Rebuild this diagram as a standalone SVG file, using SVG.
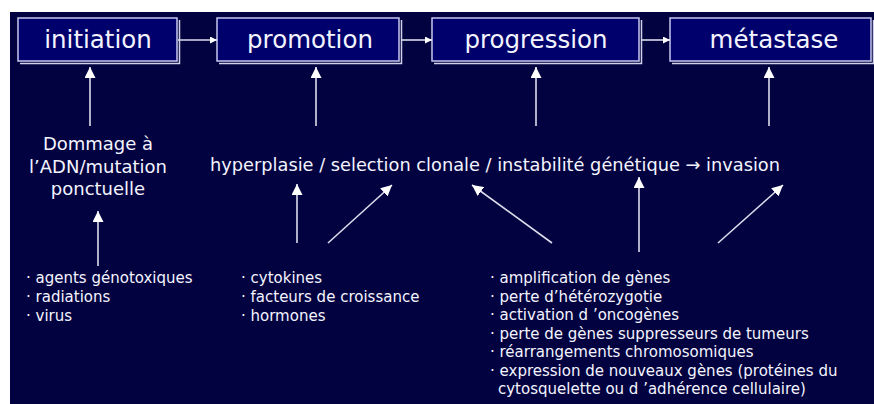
<svg xmlns="http://www.w3.org/2000/svg" width="874" height="404" viewBox="0 0 874 404">
<style>
.bg{fill:#020240}
.box{fill:#00006c;stroke:#c8c8f0;stroke-width:1.5}
.shd{fill:none;stroke:#d0d0e8;stroke-width:1.5}
.title{font-family:"DejaVu Sans",sans-serif;font-size:24.5px;fill:#f4f4ff;text-anchor:middle}
.lbl{font-family:"DejaVu Sans",sans-serif;font-size:18px;fill:#f4f4ff}
.lst{font-family:"DejaVu Sans",sans-serif;font-size:15px;fill:#f4f4ff}
.ln{stroke:#dcdcec;stroke-width:1.6;fill:none}
</style>
<defs>
<marker id="ah" viewBox="0 0 10 10" refX="10" refY="5" markerWidth="7" markerHeight="7" markerUnits="userSpaceOnUse" orient="auto">
<path d="M0,0 L10,5 L0,10 z" fill="#ffffff"/>
</marker>
<marker id="ahL" viewBox="0 0 10 10" refX="10" refY="5" markerWidth="11" markerHeight="11" markerUnits="userSpaceOnUse" orient="auto">
<path d="M0,0 L10,5 L0,10 z" fill="#ffffff"/>
</marker>
</defs>
<rect x="0" y="0" width="874" height="404" fill="#ffffff"/>
<rect class="bg" x="10" y="12" width="864" height="392"/>

<g id="initiation">
<rect class="box" x="18" y="18" width="159" height="43"/>
<polyline class="shd" points="20,63.5 179.5,63.5 179.5,20"/>
<text class="title" x="98" y="47.5">initiation</text>
</g>
<g id="promotion">
<rect class="box" x="217" y="18" width="182" height="43"/>
<polyline class="shd" points="219,63.5 401.5,63.5 401.5,20"/>
<text class="title" x="310" y="47.5">promotion</text>
</g>
<g id="progression">
<rect class="box" x="432" y="18" width="207" height="43"/>
<polyline class="shd" points="434,63.5 641.5,63.5 641.5,20"/>
<text class="title" x="536" y="47.5">progression</text>
</g>
<g id="metastase">
<rect class="box" x="670" y="18" width="201" height="43"/>
<polyline class="shd" points="672,63.5 873.5,63.5 873.5,20"/>
<text class="title" x="774" y="47.5">métastase</text>
</g>

<g id="dommage">
<text class="lbl" x="98" y="150" text-anchor="middle">Dommage à</text>
<text class="lbl" x="98" y="173" text-anchor="middle">l’ADN/mutation</text>
<text class="lbl" x="98" y="195" text-anchor="middle">ponctuelle</text>
</g>
<g id="hyperplasie">
<text class="lbl" x="210" y="171" textLength="570" lengthAdjust="spacingAndGlyphs">hyperplasie / selection clonale / instabilité génétique → invasion</text>
</g>

<g id="list-initiation">
<text class="lst" x="26" y="283">· agents génotoxiques</text>
<text class="lst" x="26" y="302">· radiations</text>
<text class="lst" x="26" y="321">· virus</text>
</g>
<g id="list-promotion">
<text class="lst" x="241" y="283">· cytokines</text>
<text class="lst" x="241" y="302">· facteurs de croissance</text>
<text class="lst" x="241" y="321">· hormones</text>
</g>
<g id="list-progression">
<text class="lst" x="490" y="283">· amplification de gènes</text>
<text class="lst" x="490" y="301.5">· perte d’hétérozygotie</text>
<text class="lst" x="490" y="320">· activation d ’oncogènes</text>
<text class="lst" x="490" y="338.5">· perte de gènes suppresseurs de tumeurs</text>
<text class="lst" x="490" y="357">· réarrangements chromosomiques</text>
<text class="lst" x="490" y="375.5">· expression de nouveaux gènes (protéines du</text>
<text class="lst" x="498" y="394">cytosquelette ou d ’adhérence cellulaire)</text>
</g>

<g id="connectors">
<line class="ln" x1="178" y1="40" x2="217" y2="40" marker-end="url(#ah)"/>
<line class="ln" x1="401" y1="40" x2="432" y2="40" marker-end="url(#ah)"/>
<line class="ln" x1="641" y1="40" x2="670" y2="40" marker-end="url(#ah)"/>
<line class="ln" x1="90" y1="126" x2="90" y2="67" marker-end="url(#ahL)"/>
<line class="ln" x1="316" y1="126" x2="316" y2="67" marker-end="url(#ahL)"/>
<line class="ln" x1="536" y1="126" x2="536" y2="67" marker-end="url(#ahL)"/>
<line class="ln" x1="769" y1="126" x2="769" y2="67" marker-end="url(#ahL)"/>
<line class="ln" x1="98" y1="266" x2="98" y2="211" marker-end="url(#ahL)"/>
<line class="ln" x1="297" y1="243" x2="297" y2="184" marker-end="url(#ahL)"/>
<line class="ln" x1="328" y1="243" x2="392" y2="185" marker-end="url(#ahL)"/>
<line class="ln" x1="552" y1="243" x2="472" y2="185" marker-end="url(#ahL)"/>
<line class="ln" x1="639" y1="252" x2="639" y2="177" marker-end="url(#ahL)"/>
<line class="ln" x1="718" y1="243" x2="783" y2="185" marker-end="url(#ahL)"/>
</g>
</svg>
